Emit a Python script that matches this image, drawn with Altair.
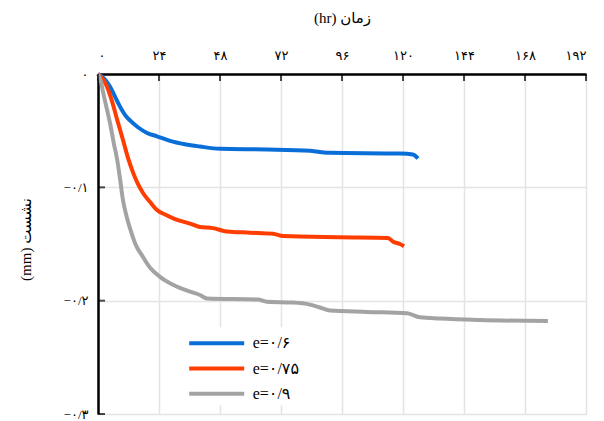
import altair as alt
import pandas as pd

# ---- axis ticks and labels ----
x_ticks = [0, 24, 48, 72, 96, 120, 144, 168, 192]
x_tick_labels = ["۰", "۲۴", "۴۸", "۷۲", "۹۶", "۱۲۰", "۱۴۴", "۱۶۸", "۱۹۲"]
y_ticks = [0, -0.1, -0.2, -0.3]
y_tick_labels = ["۰", "−۰/۱", "−۰/۲", "−۰/۳"]

x_title = "(hr) زمان"
y_title = "(mm) نشست"

series_names = ["e=۰/۶", "e=۰/۷۵", "e=۰/۹"]
series_colors = ["#0A6ED8", "#FF3D00", "#A3A3A3"]

# ---- series (time in hr, settlement in mm) ----
t_06 = [0, 2.4, 4.7, 6.7, 8.7, 10.6, 12.6, 15.7, 19.3, 23.2, 28.3, 34.2, 40.1, 48,
        66.5, 83.4, 87.3, 91.3, 118.8, 123.9, 125.9]
s_06 = [0, -0.004, -0.011, -0.020, -0.029, -0.036, -0.041, -0.047, -0.052, -0.055,
        -0.059, -0.062, -0.064, -0.066, -0.0666, -0.0678, -0.0688, -0.0695, -0.0702,
        -0.0710, -0.0746]

t_075 = [0, 2.0, 3.5, 5.5, 7.5, 9.8, 11.8, 13.8, 15.7, 17.7, 20.5, 23.2, 26.4, 30.3,
         36.2, 40.1, 45.2, 50.7, 59.8, 68.9, 72.8, 95.2, 114.1, 116.1, 118.8, 120.4]
s_075 = [0, -0.005, -0.011, -0.024, -0.040, -0.058, -0.074, -0.087, -0.097, -0.105,
         -0.113, -0.120, -0.124, -0.128, -0.132, -0.135, -0.136, -0.139, -0.140, -0.141,
         -0.143, -0.144, -0.1446, -0.148, -0.150, -0.152]

t_09 = [0, 1.2, 2.0, 3.5, 4.7, 6.3, 7.5, 8.7, 9.8, 11.4, 13.0, 14.9, 17.3, 20.5, 24.4,
        29.5, 36.2, 40.1, 42.9, 62.9, 66.5, 76.7, 83.4, 87.3, 91.3, 105.8, 121.6, 126.7,
        134.5, 150.3, 177.0]
s_09 = [0, -0.007, -0.016, -0.031, -0.043, -0.062, -0.075, -0.093, -0.111, -0.127,
        -0.139, -0.151, -0.160, -0.171, -0.179, -0.186, -0.192, -0.195, -0.198, -0.199,
        -0.201, -0.2017, -0.2035, -0.206, -0.2087, -0.2099, -0.2111, -0.2147, -0.2158,
        -0.2171, -0.218]

rows = []
for name, ts, ss in zip(series_names, [t_06, t_075, t_09], [s_06, s_075, s_09]):
    for i, (t, s) in enumerate(zip(ts, ss)):
        rows.append({"series": name, "t": t, "s": s, "order": i})
df = pd.DataFrame(rows)


def label_expr(vals, labs):
    parts = [f"abs(datum.value - ({v})) < 1e-6 ? '{l}'" for v, l in zip(vals, labs)]
    return " : ".join(parts) + " : ''"


FONT = "Liberation Serif, DejaVu Sans"

x_scale = alt.Scale(domain=[0, 192], nice=False, zero=False)
y_scale = alt.Scale(domain=[-0.3, 0], nice=False)

lines = alt.Chart(df).mark_line(strokeWidth=4, interpolate="monotone").encode(
    x=alt.X("t:Q", scale=x_scale,
            axis=alt.Axis(orient="top", values=x_ticks, labelExpr=label_expr(x_ticks, x_tick_labels),
                          title=x_title, titleX=244, titleY=-57, titleBaseline="middle",
                          ticks=False, labelPadding=12, domainColor="black", domainWidth=2.5,
                          grid=True, gridColor="#e4e4e4", gridWidth=1.5,
                          labelFontSize=13, titleFontSize=15, titleFontWeight="normal",
                          labelFont=FONT, titleFont=FONT, labelColor="black", titleColor="black")),
    y=alt.Y("s:Q", scale=y_scale,
            axis=alt.Axis(orient="left", values=y_ticks, labelExpr=label_expr(y_ticks, y_tick_labels),
                          title=y_title, titleX=-73, titleY=165, titleBaseline="middle",
                          ticks=False, labelPadding=10, domainColor="black", domainWidth=2.5,
                          grid=True, gridColor="#e4e4e4", gridWidth=1.5,
                          labelFontSize=13, titleFontSize=15, titleFontWeight="normal",
                          labelFont=FONT, titleFont=FONT, labelColor="black", titleColor="black")),
    color=alt.Color("series:N", scale=alt.Scale(domain=series_names, range=series_colors),
                    sort=series_names,
                    legend=alt.Legend(orient="none", legendX=102.7, legendY=253.2, title=None,
                                      symbolType="M-2.5,0H2.5", symbolSize=484, symbolStrokeWidth=4,
                                      labelFont=FONT, labelFontSize=16, labelColor="black",
                                      labelOffset=23, fillColor="white", padding=3,
                                      rowPadding=4.3)),
    order="order:Q",
)

xt_df = pd.DataFrame({"v": x_ticks})
yt_df = pd.DataFrame({"v": y_ticks[1:]})

top_ticks = alt.Chart(xt_df).mark_tick(orient="vertical", size=7, thickness=2, color="black").encode(
    x=alt.X("v:Q", scale=x_scale), y=alt.value(3.5))
left_ticks = alt.Chart(yt_df).mark_tick(orient="horizontal", size=7, thickness=2, color="black").encode(
    y=alt.Y("v:Q", scale=y_scale), x=alt.value(3.5))

chart = alt.layer(lines, top_ticks, left_ticks).properties(
    width=488, height=340,
    autosize=alt.AutoSizeParams(type="none"),
    padding={"left": 90, "top": 66, "right": 8, "bottom": 9},
).configure_view(stroke=None).configure(font=FONT)

chart.save("out.html", embed_options={"renderer": "svg", "actions": False})
